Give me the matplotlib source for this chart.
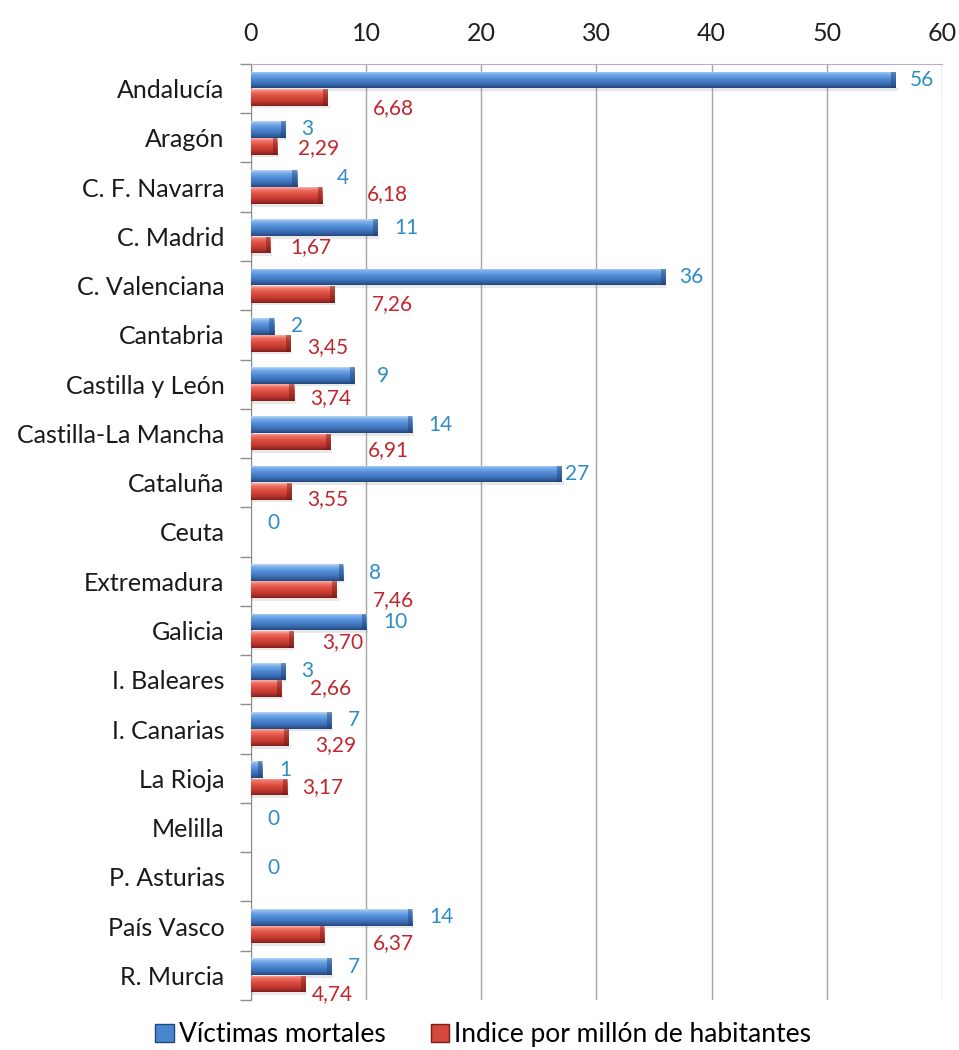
import numpy as np
import matplotlib
matplotlib.use('Agg')
import matplotlib.pyplot as plt
from matplotlib.colors import LinearSegmentedColormap
from matplotlib.patches import Patch, Rectangle

plt.rcParams['font.family'] = ['Lato', 'DejaVu Sans']

# Datos por comunidad autónoma
comunidades = ['Andalucía', 'Aragón', 'C. F. Navarra', 'C. Madrid', 'C. Valenciana',
               'Cantabria', 'Castilla y León', 'Castilla-La Mancha', 'Cataluña', 'Ceuta',
               'Extremadura', 'Galicia', 'I. Baleares', 'I. Canarias', 'La Rioja',
               'Melilla', 'P. Asturias', 'País Vasco', 'R. Murcia']
victimas = [56, 3, 4, 11, 36, 2, 9, 14, 27, 0, 8, 10, 3, 7, 1, 0, 0, 14, 7]
indice = [6.68, 2.29, 6.18, 1.67, 7.26, 3.45, 3.74, 6.91, 3.55, np.nan,
          7.46, 3.70, 2.66, 3.29, 3.17, np.nan, np.nan, 6.37, 4.74]

# desplazamiento de las etiquetas (px a la derecha / abajo del extremo de la barra)
dx_victimas = [14, 16, 40, 17, 14, 17, 22, 16, 3, 16, 26, 17, 16, 16, 17, 16, 16, 17, 16]
dx_indice = [45, 21, 45, 20, 37, 16, 16, 37, 15, 0, 36, 29, 28, 26, 15, 0, 0, 49, 6]
dy_indice = [11, 2, -2, 2, 10, 4, 5, 8, 8, 0, 10, 3, 0, 7, 0, 0, 0, 8, 10]

cmap_azul = LinearSegmentedColormap.from_list('azul', [
    (0.0, '#BCD8F7'), (0.15, '#7DB0EA'), (0.4, '#5590DA'),
    (0.7, '#3F73BC'), (0.9, '#2E5896'), (1.0, '#22457A')])
cmap_rojo = LinearSegmentedColormap.from_list('rojo', [
    (0.0, '#F9B4AC'), (0.15, '#F07568'), (0.4, '#DF4F43'),
    (0.7, '#C23A31'), (0.9, '#9E2A24'), (1.0, '#7A1E1A')])

y = np.arange(len(comunidades))
alto = 0.34
sep = 0.175

fig = plt.figure(figsize=(9.59, 10.5), dpi=100)
ax = fig.add_axes([0.2617, 0.0476, 0.7206, 0.8915])

grad = np.linspace(0, 1, 64).reshape(-1, 1)


def barras(valores, offset, cmap, borde):
    vals = np.nan_to_num(np.array(valores, dtype=float))
    bars = ax.barh(y + offset, vals, height=alto, color='none', edgecolor='none', zorder=3)
    for b in bars:
        x0, y0 = b.get_x(), b.get_y()
        w, h = b.get_width(), b.get_height()
        if w <= 0:
            continue
        im = ax.imshow(grad, cmap=cmap, aspect='auto', origin='upper',
                       extent=(x0, x0 + w, y0 + h, y0), zorder=3, interpolation='bilinear')
        im.set_clip_path(b)
        # extremo biselado
        cap = min(0.4, w * 0.5)
        ax.add_patch(Rectangle((x0 + w - cap, y0), cap, h, facecolor=borde,
                               alpha=0.45, edgecolor='none', zorder=4))
        # sombra
        ax.add_patch(Rectangle((x0, y0 + h), w + 0.15, 0.05, facecolor='#808080',
                               alpha=0.18, edgecolor='none', zorder=2))
    return bars


barras(victimas, -sep, cmap_azul, '#1F3F70')
barras(indice, sep, cmap_rojo, '#6E1713')

for i in range(len(comunidades)):
    ax.annotate(f'{victimas[i]}', xy=(victimas[i], y[i] - sep),
                xytext=(dx_victimas[i] * 0.72, 0), textcoords='offset points',
                ha='left', va='center', fontsize=15, color='#2F8CC4', zorder=6)
    if not np.isnan(indice[i]):
        txt = f'{indice[i]:.2f}'.replace('.', ',')
        ax.annotate(txt, xy=(indice[i], y[i] + sep),
                    xytext=(dx_indice[i] * 0.72, -dy_indice[i] * 0.72),
                    textcoords='offset points', ha='left', va='center',
                    fontsize=15, color='#C0272D', zorder=6)

ax.set_xlim(0, 60)
ax.set_ylim(len(comunidades) - 0.5, -0.5)
ax.set_xticks(np.arange(0, 61, 10))
ax.xaxis.tick_top()
ax.tick_params(axis='x', length=0, labelsize=18, labelcolor='#202020', pad=14)
ax.set_yticks(y)
ax.set_yticklabels(comunidades)
ax.tick_params(axis='y', which='major', length=0, labelsize=18, labelcolor='#1A1A1A', pad=19)
ax.set_yticks(np.arange(-0.5, len(comunidades), 1), minor=True)
ax.tick_params(axis='y', which='minor', length=8, color='#8C8C8C', width=1)

ax.grid(axis='x', color='#A6A6A6', linewidth=1, zorder=0)
ax.set_axisbelow(True)
for lado in ['right', 'bottom']:
    ax.spines[lado].set_visible(False)
ax.spines['left'].set_color('#8C8C8C')
ax.spines['top'].set_color('#B8AECB')

handles = [Patch(facecolor='#4A86D0', edgecolor='#22457A', label='Víctimas mortales'),
           Patch(facecolor='#D6473C', edgecolor='#7A1E1A', label='Indice por millón de habitantes')]
fig.legend(handles=handles, loc='center', bbox_to_anchor=(0.504, 0.0145), ncol=2,
           frameon=False, fontsize=19, handlelength=0.7, handleheight=0.7,
           handletextpad=0.2, columnspacing=1.7)

fig.savefig('out.png', dpi=100, facecolor='white')
